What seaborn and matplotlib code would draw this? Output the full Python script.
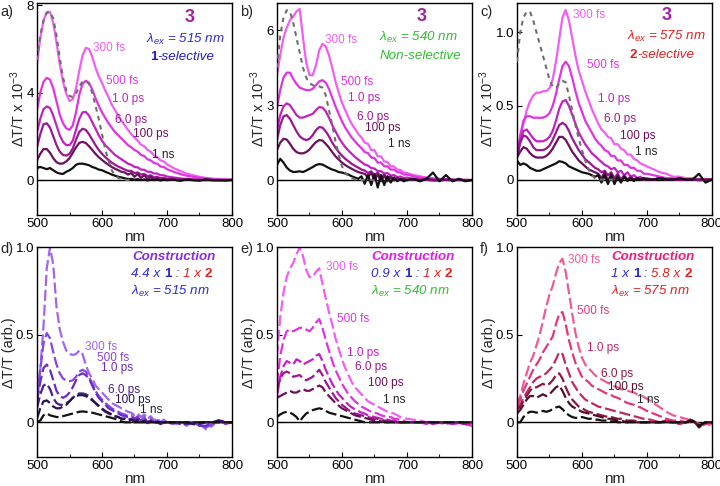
import matplotlib
matplotlib.use("Agg")
import matplotlib.pyplot as plt
import numpy as np
import pandas as pd
import seaborn as sns
from matplotlib.offsetbox import TextArea, HPacker, AnnotationBbox
from matplotlib.ticker import MultipleLocator

# ---------------- data ----------------
WL = [500, 505, 510, 515, 520, 525, 530, 535, 540, 545,
      550, 555, 560, 565, 570, 575, 580, 585, 590, 595,
      600, 605, 610, 615, 620, 625, 630, 635, 640, 645,
      650, 655, 660, 665, 670, 675, 680, 685, 690, 695,
      700, 710, 720, 730, 740, 750, 760, 770, 780, 790,
      800]
WL_ABS = WL[:31]
DELAYS = ["300 fs", "500 fs", "1.0 ps", "6.0 ps", "100 ps", "1 ns"]

a_300fs = [5.3, 6.5, 7.3, 7.7, 7.7, 7.2, 6.3, 5.3, 4.5, 3.95,
           3.62, 3.7, 4.2, 5.0, 5.7, 6.05, 6.0, 5.65, 5.15, 4.75,
           4.45, 4.1, 3.8, 3.45, 3.2, 2.95, 2.72, 2.5, 2.3, 2.1,
           1.95, 1.8, 1.62, 1.55, 1.38, 1.3, 1.12, 1.05, 0.9, 0.85,
           0.72, 0.55, 0.42, 0.3, 0.22, 0.15, 0.1, 0.06, 0.05, 0.02,
           0.02]
a_500fs = [3.2, 4.0, 4.5, 4.68, 4.6, 4.2, 3.6, 3.0, 2.6, 2.37,
           2.3, 2.5, 3.1, 3.9, 4.4, 4.55, 4.45, 4.15, 3.75, 3.4,
           3.1, 2.85, 2.6, 2.4, 2.2, 2.05, 1.9, 1.75, 1.6, 1.5,
           1.38, 1.3, 1.15, 1.1, 0.95, 0.9, 0.78, 0.75, 0.62, 0.6,
           0.5, 0.38, 0.28, 0.2, 0.15, 0.1, 0.06, 0.05, 0.03, 0.02,
           0.01]
a_1ps = [2.2, 2.8, 3.25, 3.37, 3.3, 2.95, 2.5, 2.05, 1.75, 1.6,
         1.6, 1.8, 2.3, 2.8, 3.1, 3.12, 2.95, 2.65, 2.35, 2.05,
         1.8, 1.6, 1.45, 1.3, 1.15, 1.05, 0.95, 0.85, 0.75, 0.7,
         0.6, 0.58, 0.48, 0.47, 0.38, 0.38, 0.3, 0.3, 0.22, 0.22,
         0.16, 0.12, 0.08, 0.05, 0.04, 0.02, 0.02, 0.01, 0.01, 0.0,
         0.0]
a_6ps = [1.5, 2.1, 2.55, 2.6, 2.4, 2.0, 1.6, 1.3, 1.15, 1.12,
         1.2, 1.45, 1.85, 2.2, 2.35, 2.3, 2.1, 1.85, 1.6, 1.38,
         1.2, 1.05, 0.92, 0.8, 0.7, 0.62, 0.55, 0.48, 0.42, 0.42,
         0.32, 0.35, 0.25, 0.28, 0.18, 0.22, 0.12, 0.15, 0.08, 0.1,
         0.05, 0.05, 0.02, 0.02, 0.0, 0.01, -0.01, 0.0, 0.0, -0.02,
         0.0]
a_100ps = [0.9, 1.2, 1.42, 1.42, 1.25, 1.0, 0.82, 0.75, 0.76, 0.85,
           1.0, 1.25, 1.5, 1.7, 1.75, 1.7, 1.55, 1.38, 1.2, 1.05,
           0.92, 0.8, 0.7, 0.6, 0.52, 0.45, 0.38, 0.35, 0.25, 0.32,
           0.15, 0.28, 0.1, 0.22, 0.05, 0.15, 0.02, 0.08, 0.0, 0.05,
           0.0, 0.02, -0.02, 0.03, 0.0, -0.02, 0.02, 0.0, -0.02, 0.01,
           0.0]
a_1ns = [0.55, 0.6, 0.55, 0.5, 0.55, 0.45, 0.35, 0.3, 0.28, 0.38,
         0.45, 0.55, 0.7, 0.75, 0.75, 0.72, 0.68, 0.6, 0.55, 0.48,
         0.45, 0.38, 0.32, 0.25, 0.2, 0.15, 0.12, 0.08, 0.05, 0.05,
         0.02, 0.04, 0.0, 0.03, -0.02, 0.02, 0.0, 0.02, -0.02, 0.01,
         0.0, 0.02, -0.03, 0.02, 0.0, -0.02, 0.03, -0.01, 0.0, -0.02,
         0.01]
a_abs = [5.5, 6.6, 7.3, 7.65, 7.7, 7.4, 6.6, 5.6, 4.7, 4.1,
         3.85, 3.8, 3.95, 4.3, 4.5, 4.55, 4.4, 4.0, 3.4, 2.8,
         2.1, 1.4, 0.9, 0.45, 0.2, 0.1, 0.05, 0.02, 0.0, 0.0,
         0.0]

b_300fs = [4.2, 5.0, 5.7, 6.1, 6.4, 6.55, 6.75, 6.85, 5.7, 4.7,
           4.2, 4.2, 4.6, 5.2, 5.45, 5.35, 5.0, 4.5, 3.95, 3.5,
           3.1, 2.8, 2.5, 2.25, 2.05, 1.85, 1.7, 1.5, 1.45, 1.2,
           1.2, 0.95, 0.95, 0.75, 0.72, 0.55, 0.55, 0.42, 0.4, 0.3,
           0.28, 0.2, 0.15, 0.1, 0.07, 0.05, 0.02, 0.02, 0.0, 0.01,
           0.0]
b_500fs = [2.9, 3.6, 4.1, 4.3, 4.3, 4.05, 3.85, 3.7, 3.65, 3.6,
           3.6, 3.65, 3.8, 3.95, 4.0, 3.9, 3.65, 3.3, 2.95, 2.65,
           2.35, 2.1, 1.9, 1.7, 1.55, 1.4, 1.28, 1.12, 1.08, 0.9,
           0.88, 0.7, 0.7, 0.55, 0.55, 0.42, 0.42, 0.32, 0.3, 0.22,
           0.22, 0.15, 0.1, 0.08, 0.05, 0.03, 0.02, 0.02, 0.0, 0.0,
           0.0]
b_1ps = [2.0, 2.6, 2.95, 3.07, 3.0, 2.8, 2.6, 2.5, 2.5, 2.55,
         2.6, 2.65, 2.8, 2.92, 2.9, 2.75, 2.5, 2.2, 1.95, 1.7,
         1.5, 1.32, 1.18, 1.05, 0.92, 0.82, 0.72, 0.62, 0.58, 0.48,
         0.46, 0.36, 0.36, 0.26, 0.28, 0.18, 0.2, 0.12, 0.14, 0.08,
         0.1, 0.05, 0.04, 0.02, 0.02, 0.0, 0.01, 0.0, 0.0, 0.0,
         0.0]
b_6ps = [1.6, 2.2, 2.55, 2.6, 2.45, 2.2, 1.95, 1.75, 1.65, 1.6,
         1.65, 1.8, 2.0, 2.12, 2.1, 1.95, 1.75, 1.5, 1.3, 1.12,
         0.98, 0.85, 0.75, 0.65, 0.57, 0.5, 0.42, 0.38, 0.28, 0.35,
         0.18, 0.3, 0.1, 0.22, 0.05, 0.15, 0.02, 0.08, 0.0, 0.05,
         0.0, 0.02, 0.0, 0.01, -0.02, 0.02, 0.0, -0.01, 0.01, 0.0,
         0.0]
b_100ps = [1.2, 1.5, 1.65, 1.62, 1.45, 1.25, 1.12, 1.07, 1.07, 1.12,
           1.22, 1.38, 1.52, 1.6, 1.58, 1.45, 1.3, 1.12, 0.95, 0.82,
           0.7, 0.6, 0.52, 0.45, 0.38, 0.32, 0.28, 0.25, 0.1, 0.3,
           0.0, 0.22, -0.05, 0.18, -0.05, 0.12, -0.02, 0.08, 0.0, 0.04,
           0.0, 0.03, -0.02, 0.05, 0.0, -0.03, 0.02, 0.0, 0.01, -0.01,
           0.0]
b_1ns = [0.6, 0.85, 0.7, 0.5, 0.38, 0.32, 0.33, 0.35, 0.32, 0.38,
         0.45, 0.52, 0.6, 0.64, 0.62, 0.55, 0.48, 0.42, 0.38, 0.32,
         0.3, 0.26, 0.22, 0.15, 0.1, 0.05, 0.15, -0.15, 0.2, -0.2,
         0.25, -0.3, 0.2, -0.2, 0.15, -0.1, 0.1, -0.05, 0.05, -0.05,
         0.0, 0.05, -0.05, 0.05, 0.3, -0.05, 0.2, -0.05, 0.05, -0.05,
         0.0]
b_abs = [4.5, 5.8, 6.5, 6.8, 6.75, 6.3, 5.7, 5.1, 4.5, 4.1,
         3.88, 3.8, 3.75, 3.75, 3.7, 3.4, 2.8, 2.2, 1.55, 1.0,
         0.55, 0.3, 0.15, 0.08, 0.03, 0.0, 0.0, 0.0, 0.0, 0.0,
         0.0]

c_300fs = [0.17, 0.28, 0.38, 0.47, 0.53, 0.57, 0.59, 0.59, 0.6, 0.6,
           0.62, 0.68, 0.8, 0.95, 1.1, 1.15, 1.08, 0.96, 0.84, 0.74,
           0.67, 0.6, 0.54, 0.48, 0.43, 0.38, 0.34, 0.32, 0.29, 0.28,
           0.24, 0.24, 0.21, 0.2, 0.17, 0.17, 0.14, 0.13, 0.11, 0.1,
           0.09, 0.07, 0.05, 0.04, 0.02, 0.02, 0.01, 0.01, -0.01, 0.0,
           0.0]
c_500fs = [0.16, 0.3, 0.4, 0.43, 0.43, 0.42, 0.42, 0.42, 0.42, 0.43,
           0.45, 0.5, 0.58, 0.68, 0.77, 0.8, 0.77, 0.69, 0.6, 0.52,
           0.46, 0.4, 0.36, 0.32, 0.28, 0.25, 0.23, 0.2, 0.19, 0.16,
           0.16, 0.13, 0.13, 0.1, 0.1, 0.08, 0.08, 0.06, 0.06, 0.04,
           0.04, 0.03, 0.02, 0.01, 0.01, 0.0, 0.0, 0.0, 0.0, 0.0,
           0.0]
c_1ps = [0.15, 0.27, 0.33, 0.34, 0.31, 0.28, 0.26, 0.26, 0.26, 0.27,
         0.29, 0.33, 0.4, 0.48, 0.53, 0.54, 0.5, 0.44, 0.38, 0.32,
         0.28, 0.24, 0.21, 0.18, 0.16, 0.14, 0.12, 0.1, 0.09, 0.07,
         0.08, 0.05, 0.06, 0.03, 0.05, 0.02, 0.03, 0.01, 0.02, 0.0,
         0.01, 0.0, 0.01, 0.0, 0.0, 0.0, 0.0, 0.0, 0.0, 0.0,
         0.0]
c_6ps = [0.15, 0.25, 0.3, 0.29, 0.26, 0.22, 0.2, 0.2, 0.2, 0.21,
         0.23, 0.27, 0.32, 0.37, 0.385, 0.37, 0.33, 0.28, 0.24, 0.2,
         0.17, 0.14, 0.12, 0.1, 0.08, 0.07, 0.05, 0.06, 0.03, 0.05,
         0.01, 0.04, 0.0, 0.03, 0.0, 0.02, 0.0, 0.01, 0.0, 0.01,
         0.0, 0.0, 0.01, 0.0, 0.0, 0.0, 0.0, 0.0, 0.0, 0.0,
         0.0]
c_100ps = [0.15, 0.19, 0.22, 0.21, 0.18, 0.16, 0.15, 0.15, 0.15, 0.16,
           0.18, 0.21, 0.25, 0.29, 0.29, 0.27, 0.23, 0.19, 0.16, 0.13,
           0.11, 0.09, 0.07, 0.06, 0.05, 0.04, 0.01, 0.05, -0.01, 0.04,
           -0.02, 0.03, -0.01, 0.02, 0.0, 0.01, 0.0, 0.01, 0.0, 0.0,
           0.0, 0.0, 0.01, 0.0, 0.0, 0.0, 0.0, 0.0, 0.0, 0.0,
           0.0]
c_1ns = [0.13, 0.1, 0.11, 0.1, 0.08, 0.07, 0.06, 0.06, 0.07, 0.08,
         0.09, 0.1, 0.11, 0.125, 0.12, 0.11, 0.09, 0.08, 0.07, 0.06,
         0.05, 0.045, 0.04, 0.03, 0.02, 0.03, -0.02, 0.03, -0.03, 0.03,
         -0.03, 0.02, -0.02, 0.02, -0.01, 0.01, -0.01, 0.01, 0.0, 0.01,
         0.0, 0.0, 0.01, 0.0, 0.0, 0.01, 0.0, 0.0, 0.04, -0.02,
         0.0]
c_abs = [0.8, 1.0, 1.1, 1.14, 1.14, 1.08, 1.0, 0.92, 0.84, 0.76,
         0.68, 0.63, 0.62, 0.65, 0.67, 0.66, 0.57, 0.47, 0.37, 0.28,
         0.2, 0.13, 0.07, 0.03, 0.01, 0.0, 0.0, 0.0, 0.0, 0.0,
         0.0]

d_300fs = [0.1, 0.3, 0.55, 0.88, 1.0, 0.9, 0.66, 0.53, 0.46, 0.41,
           0.39, 0.385, 0.39, 0.41, 0.39, 0.33, 0.28, 0.25, 0.21, 0.19,
           0.17, 0.15, 0.13, 0.11, 0.1, 0.09, 0.08, 0.07, 0.06, 0.055,
           0.04, 0.05, 0.03, 0.045, 0.02, 0.035, 0.01, 0.025, 0.0, 0.015,
           0.0, -0.01, 0.0, -0.02, 0.0, -0.01, -0.04, -0.02, 0.02, -0.01,
           0.0]
d_500fs = [0.15, 0.3, 0.45, 0.51, 0.48, 0.4, 0.33, 0.28, 0.25, 0.24,
           0.235, 0.24, 0.26, 0.29, 0.3, 0.29, 0.26, 0.22, 0.18, 0.15,
           0.13, 0.11, 0.095, 0.08, 0.07, 0.06, 0.05, 0.045, 0.035, 0.04,
           0.02, 0.035, 0.01, 0.03, 0.0, 0.02, 0.0, 0.01, -0.01, 0.0,
           0.0, -0.01, 0.0, -0.01, 0.0, -0.02, -0.03, -0.01, 0.01, -0.01,
           0.0]
d_1ps = [0.12, 0.23, 0.31, 0.33, 0.3, 0.24, 0.18, 0.15, 0.14, 0.15,
         0.17, 0.2, 0.24, 0.27, 0.28, 0.27, 0.25, 0.21, 0.17, 0.14,
         0.12, 0.1, 0.08, 0.07, 0.06, 0.05, 0.04, 0.035, 0.03, 0.03,
         0.02, 0.025, 0.01, 0.02, 0.0, 0.01, 0.0, 0.01, -0.01, 0.0,
         0.0, 0.0, -0.01, 0.0, -0.01, -0.02, -0.02, 0.0, 0.01, 0.0,
         0.0]
d_6ps = [0.08, 0.16, 0.21, 0.22, 0.19, 0.14, 0.11, 0.1, 0.1, 0.11,
         0.12, 0.14, 0.155, 0.165, 0.165, 0.16, 0.15, 0.13, 0.11, 0.09,
         0.075, 0.06, 0.05, 0.04, 0.035, 0.03, 0.02, 0.02, 0.015, 0.02,
         0.01, 0.015, 0.0, 0.01, 0.0, 0.01, 0.0, 0.0, -0.01, 0.0,
         0.0, 0.0, 0.0, -0.01, 0.0, -0.01, 0.0, 0.0, 0.0, 0.0,
         0.0]
d_100ps = [0.02, 0.08, 0.12, 0.125, 0.11, 0.09, 0.08, 0.08, 0.09, 0.1,
           0.12, 0.14, 0.15, 0.155, 0.155, 0.15, 0.14, 0.125, 0.11, 0.095,
           0.08, 0.065, 0.055, 0.045, 0.035, 0.03, 0.02, 0.02, 0.01, 0.015,
           0.0, 0.01, 0.0, 0.01, -0.005, 0.005, 0.0, 0.0, 0.0, 0.0,
           0.0, 0.0, 0.0, 0.0, -0.01, 0.0, 0.0, 0.0, 0.01, 0.0,
           0.0]
d_1ns = [0.0, 0.01, 0.04, 0.05, 0.04, 0.035, 0.03, 0.03, 0.035, 0.04,
         0.045, 0.05, 0.055, 0.06, 0.062, 0.06, 0.058, 0.055, 0.05, 0.045,
         0.04, 0.035, 0.03, 0.025, 0.02, 0.01, 0.005, 0.0, 0.0, 0.0,
         0.0, 0.0, 0.0, 0.0, 0.0, 0.0, 0.0, 0.0, 0.0, 0.0,
         0.0, 0.0, 0.0, 0.0, 0.0, 0.0, 0.0, 0.0, 0.0, 0.0,
         0.0]

e_300fs = [0.38, 0.6, 0.74, 0.83, 0.88, 0.91, 0.96, 1.0, 0.95, 0.87,
           0.83, 0.83, 0.86, 0.88, 0.79, 0.71, 0.63, 0.56, 0.48, 0.42,
           0.36, 0.31, 0.27, 0.23, 0.2, 0.18, 0.16, 0.14, 0.12, 0.11,
           0.1, 0.09, 0.08, 0.07, 0.06, 0.055, 0.05, 0.04, 0.03, 0.025,
           0.02, 0.015, 0.01, 0.0, 0.005, -0.005, 0.0, -0.01, -0.005, -0.01,
           -0.02]
e_500fs = [0.22, 0.38, 0.47, 0.52, 0.53, 0.52, 0.53, 0.54, 0.54, 0.53,
           0.52, 0.54, 0.57, 0.59, 0.54, 0.47, 0.41, 0.35, 0.3, 0.26,
           0.22, 0.19, 0.16, 0.14, 0.12, 0.105, 0.09, 0.08, 0.07, 0.06,
           0.055, 0.05, 0.04, 0.035, 0.03, 0.03, 0.02, 0.02, 0.01, 0.01,
           0.0, 0.0, 0.0, -0.01, 0.0, 0.0, -0.01, 0.0, -0.01, -0.01,
           -0.02]
e_1ps = [0.15, 0.26, 0.32, 0.35, 0.34, 0.33, 0.36, 0.35, 0.33, 0.34,
         0.35, 0.36, 0.38, 0.39, 0.35, 0.3, 0.26, 0.22, 0.19, 0.16,
         0.14, 0.12, 0.1, 0.085, 0.075, 0.065, 0.055, 0.05, 0.04, 0.035,
         0.03, 0.025, 0.02, 0.02, 0.015, 0.01, 0.01, 0.005, 0.0, 0.0,
         0.0, 0.0, 0.0, 0.0, -0.01, 0.0, 0.0, -0.01, 0.0, -0.01,
         -0.01]
e_6ps = [0.18, 0.25, 0.28, 0.29, 0.28, 0.26, 0.265, 0.27, 0.25, 0.24,
         0.25, 0.26, 0.28, 0.3, 0.27, 0.23, 0.2, 0.17, 0.14, 0.12,
         0.1, 0.085, 0.07, 0.06, 0.05, 0.045, 0.04, 0.035, 0.03, 0.025,
         0.02, 0.02, 0.015, 0.01, 0.01, 0.005, 0.0, 0.0, 0.0, 0.0,
         0.0, 0.0, 0.0, 0.0, 0.0, -0.01, 0.0, 0.0, 0.0, -0.01,
         0.0]
e_100ps = [0.14, 0.15, 0.16, 0.17, 0.18, 0.17, 0.17, 0.18, 0.19, 0.18,
           0.18, 0.19, 0.2, 0.21, 0.2, 0.17, 0.15, 0.13, 0.11, 0.095,
           0.08, 0.07, 0.06, 0.05, 0.04, 0.035, 0.03, 0.025, 0.02, 0.015,
           0.01, 0.01, 0.005, 0.005, 0.0, 0.0, 0.0, 0.0, 0.0, 0.0,
           0.0, 0.0, 0.0, 0.0, 0.0, 0.0, 0.0, 0.0, 0.0, 0.0,
           0.0]
e_1ns = [0.03, 0.045, 0.055, 0.06, 0.055, 0.045, 0.03, 0.005, 0.03, 0.05,
         0.06, 0.07, 0.075, 0.08, 0.075, 0.065, 0.055, 0.05, 0.045, 0.04,
         0.035, 0.03, 0.025, 0.02, 0.015, 0.01, 0.005, 0.0, 0.0, 0.0,
         0.0, 0.0, 0.0, 0.0, 0.0, 0.0, 0.0, 0.0, 0.0, 0.0,
         0.0, 0.0, 0.0, 0.0, 0.0, 0.0, 0.0, 0.0, 0.0, 0.0,
         0.0]

f_300fs = [0.1, 0.15, 0.22, 0.28, 0.34, 0.38, 0.44, 0.5, 0.58, 0.66,
           0.73, 0.78, 0.85, 0.91, 0.935, 0.86, 0.74, 0.62, 0.51, 0.43,
           0.37, 0.33, 0.31, 0.29, 0.27, 0.255, 0.245, 0.235, 0.225, 0.215,
           0.205, 0.2, 0.19, 0.185, 0.18, 0.175, 0.17, 0.16, 0.155, 0.145,
           0.135, 0.11, 0.085, 0.06, 0.04, 0.03, 0.02, 0.01, -0.01, -0.02,
           -0.01]
f_500fs = [0.09, 0.13, 0.18, 0.22, 0.26, 0.3, 0.33, 0.36, 0.4, 0.43,
           0.46, 0.49, 0.56, 0.62, 0.63, 0.56, 0.47, 0.4, 0.34, 0.3,
           0.26, 0.245, 0.23, 0.21, 0.2, 0.19, 0.18, 0.17, 0.16, 0.155,
           0.145, 0.14, 0.13, 0.12, 0.11, 0.105, 0.1, 0.09, 0.085, 0.075,
           0.065, 0.05, 0.035, 0.02, 0.01, 0.01, 0.0, 0.0, -0.01, -0.01,
           0.0]
f_1ps = [0.08, 0.1, 0.14, 0.17, 0.2, 0.23, 0.25, 0.26, 0.27, 0.28,
         0.3, 0.32, 0.36, 0.4, 0.39, 0.33, 0.28, 0.23, 0.2, 0.17,
         0.15, 0.13, 0.12, 0.11, 0.1, 0.09, 0.085, 0.08, 0.075, 0.07,
         0.065, 0.06, 0.055, 0.05, 0.045, 0.04, 0.035, 0.03, 0.025, 0.02,
         0.02, 0.01, 0.0, 0.01, 0.0, -0.01, 0.0, 0.01, -0.02, -0.01,
         0.0]
f_6ps = [0.07, 0.09, 0.12, 0.15, 0.18, 0.2, 0.2, 0.21, 0.22, 0.21,
         0.22, 0.24, 0.27, 0.28, 0.25, 0.2, 0.16, 0.13, 0.11, 0.09,
         0.08, 0.07, 0.06, 0.055, 0.05, 0.045, 0.04, 0.035, 0.03, 0.03,
         0.025, 0.02, 0.02, 0.015, 0.01, 0.01, 0.01, 0.005, 0.0, 0.0,
         0.0, 0.0, 0.0, 0.01, 0.0, 0.0, 0.0, 0.01, -0.02, 0.0,
         0.0]
f_100ps = [0.05, 0.07, 0.1, 0.13, 0.15, 0.15, 0.14, 0.15, 0.16, 0.15,
           0.16, 0.18, 0.2, 0.21, 0.18, 0.14, 0.11, 0.09, 0.08, 0.07,
           0.06, 0.055, 0.05, 0.045, 0.04, 0.035, 0.03, 0.025, 0.02, 0.02,
           0.015, 0.01, 0.01, 0.005, 0.0, 0.005, 0.0, 0.0, 0.0, 0.0,
           0.0, 0.0, 0.0, 0.0, 0.0, 0.0, 0.0, 0.02, -0.03, 0.0,
           0.0]
f_1ns = [0.0, 0.0, 0.03, 0.05, 0.06, 0.06, 0.055, 0.06, 0.065, 0.06,
         0.065, 0.075, 0.085, 0.09, 0.075, 0.055, 0.04, 0.03, 0.025, 0.025,
         0.03, 0.025, 0.02, 0.02, 0.015, 0.015, 0.01, 0.01, 0.01, 0.005,
         0.005, 0.0, 0.0, 0.0, 0.0, 0.0, 0.0, 0.0, 0.0, 0.0,
         0.0, 0.0, 0.0, 0.0, 0.0, 0.0, 0.0, 0.01, -0.02, 0.0,
         0.0]

# ---------------- style ----------------
sns.set_theme(style="ticks")
plt.rcParams["font.family"] = ["Liberation Sans", "DejaVu Sans"]
plt.rcParams["mathtext.fontset"] = "custom"
plt.rcParams["mathtext.rm"] = "Liberation Sans"
plt.rcParams["mathtext.it"] = "Liberation Sans:italic"
plt.rcParams["mathtext.bf"] = "Liberation Sans:bold"

MAGENTA = ["#f15ef1", "#e034e0", "#c222c0", "#9c1890", "#6c105f", "#111111"]
VIOLET = ["#a066f0", "#8646e6", "#6c2ac8", "#4a1e8a", "#28144e", "#111111"]
PINK = ["#f05a96", "#e1377d", "#c32864", "#8c1946", "#550f28", "#111111"]
BLUE, RED, GREEN = "#2b2bd6", "#e61e1e", "#2ec02e"

fig = plt.figure(figsize=(7.2, 4.86), dpi=100)
cols = [0.0514, 0.3847, 0.718]
W = 0.2708
TOP = (0.5576, 0.4368)
BOT = (0.0591, 0.432)

LBL = 8.5
ANN = 9.6


def rich(ax, x, y, parts, size=ANN):
    kids = []
    for txt, color, style, weight in parts:
        kids.append(TextArea(txt, textprops=dict(color=color, fontsize=size,
                                                 fontstyle=style, fontweight=weight)))
    box = HPacker(children=kids, align="baseline", pad=0, sep=0)
    ab = AnnotationBbox(box, (x, y), xycoords="data", frameon=False,
                        box_alignment=(0.5, 0.5), pad=0, annotation_clip=False)
    ax.add_artist(ab)


def panel(col, row, series, colors, ylim, yticks, yticklabels, ylabel,
          dashed, abs_series, label_pos):
    b, h = row
    ax = fig.add_axes([cols[col], b, W, h])
    frames = []
    for name, vals in zip(DELAYS, series):
        frames.append(pd.DataFrame({"wl": WL, "val": vals, "delay": name}))
    df = pd.concat(frames, ignore_index=True)
    ax.axhline(0, color="black", lw=1.0, zorder=1)
    if dashed:
        sns.lineplot(data=df, x="wl", y="val", hue="delay", hue_order=DELAYS,
                     palette=colors, style="delay", style_order=DELAYS,
                     dashes={d: (5, 1.7) for d in DELAYS}, linewidth=1.6,
                     estimator=None, sort=False, legend=False, ax=ax, zorder=2)
    else:
        sns.lineplot(data=df, x="wl", y="val", hue="delay", hue_order=DELAYS,
                     palette=colors, linewidth=1.6, estimator=None, sort=False,
                     legend=False, ax=ax, zorder=2)
    if abs_series is not None:
        sns.lineplot(x=WL_ABS, y=abs_series, color="#6e6e6e", linewidth=1.5,
                     estimator=None, sort=False, ax=ax, zorder=3)
        ax.lines[-1].set_dashes((2.2, 2.2))
    ax.set_xlim(500, 800)
    ax.set_ylim(*ylim)
    ax.set_xticks([500, 600, 700, 800])
    ax.xaxis.set_minor_locator(MultipleLocator(50))
    ax.set_yticks(yticks)
    ax.set_yticklabels(yticklabels)
    ax.tick_params(which="major", direction="in", length=3.5, width=0.8,
                   labelsize=9.5, pad=2, colors="black")
    ax.tick_params(which="minor", direction="in", length=2, width=0.8)
    for s in ax.spines.values():
        s.set_linewidth(1.0)
        s.set_color("black")
    ax.set_xlabel("nm", fontsize=11, labelpad=0)
    ax.set_ylabel(ylabel, fontsize=10.5, labelpad=0)
    for (x, y), name, c in zip(label_pos, DELAYS, colors):
        ax.text(x, y, name, color=c if c != "#111111" else "#222222",
                fontsize=LBL, ha="left", va="center")
    return ax


YL_TOP = "ΔT/T x 10$^{\\mathregular{-3}}$"
YL_BOT = "ΔT/T (arb.)"

# a)
ax = panel(0, TOP, [a_300fs, a_500fs, a_1ps, a_6ps, a_100ps, a_1ns], MAGENTA,
           (-1.6, 8.12), [0, 4, 8], ["0", "4", "8"], YL_TOP, False, a_abs,
           [(586, 6.05), (606, 4.55), (615, 3.7), (620, 2.77), (648, 2.1), (677, 1.15)])
ax.text(735, 7.45, "3", color="#a21fa5", fontsize=13, fontweight="bold", ha="center", va="center")
rich(ax, 728, 6.45, [("λ$_{\\mathit{ex}}$ = 515 nm", BLUE, "italic", "normal")])
rich(ax, 723, 5.65, [("1", "#1f1fc0", "normal", "bold"), ("-selective", "#1f1fc0", "italic", "normal")])

# b)
ax = panel(1, TOP, [b_300fs, b_500fs, b_1ps, b_6ps, b_100ps, b_1ns], MAGENTA,
           (-1.4, 7.1), [0, 3, 6], ["0", "3", "6"], YL_TOP, False, b_abs,
           [(574, 5.6), (598, 3.93), (610, 3.27), (623, 2.53), (635, 2.07), (671, 1.44)])
ax.text(723, 6.55, "3", color="#a21fa5", fontsize=13, fontweight="bold", ha="center", va="center")
rich(ax, 717, 5.7, [("λ$_{\\mathit{ex}}$ = 540 nm", GREEN, "italic", "normal")])
rich(ax, 720, 4.98, [("Non-selective", GREEN, "italic", "normal")])

# c)
ax = panel(2, TOP, [c_300fs, c_500fs, c_1ps, c_6ps, c_100ps, c_1ns], MAGENTA,
           (-0.24, 1.2), [0, 0.5, 1.0], ["0", "0.5", "1.0"], YL_TOP, False, c_abs,
           [(586, 1.12), (608, 0.78), (625, 0.55), (634, 0.41), (658, 0.295), (681, 0.186)])
ax.text(730, 1.115, "3", color="#a21fa5", fontsize=13, fontweight="bold", ha="center", va="center")
rich(ax, 730, 0.97, [("λ$_{\\mathit{ex}}$ = 575 nm", RED, "italic", "normal")])
rich(ax, 723, 0.845, [("2", RED, "normal", "bold"), ("-selective", RED, "italic", "normal")])

# d)
ax = panel(0, BOT, [d_300fs, d_500fs, d_1ps, d_6ps, d_100ps, d_1ns], VIOLET,
           (-0.2, 1.0), [0, 0.5, 1.0], ["0", "0.5", "1.0"], YL_BOT, True, None,
           [(574, 0.43), (592, 0.37), (599, 0.31), (610, 0.184), (620, 0.126), (658, 0.069)])
rich(ax, 710, 0.946, [("Construction", "#8a2be6", "italic", "bold")])
rich(ax, 707, 0.845, [("4.4 x ", BLUE, "italic", "normal"), ("1", BLUE, "normal", "bold"),
                      (" : ", "#333333", "italic", "normal"), ("1 x ", RED, "italic", "normal"),
                      ("2", RED, "normal", "bold")])
rich(ax, 705, 0.75, [("λ$_{\\mathit{ex}}$ = 515 nm", BLUE, "italic", "normal")])

# e)
ax = panel(1, BOT, [e_300fs, e_500fs, e_1ps, e_6ps, e_100ps, e_1ns], MAGENTA,
           (-0.2, 1.0), [0, 0.5, 1.0], ["0", "0.5", "1.0"], YL_BOT, True, None,
           [(575, 0.89), (592, 0.59), (607, 0.395), (620, 0.314), (640, 0.222), (663, 0.126)])
rich(ax, 710, 0.946, [("Construction", "#e020e0", "italic", "bold")])
rich(ax, 707, 0.845, [("0.9 x ", BLUE, "italic", "normal"), ("1", BLUE, "normal", "bold"),
                      (" : ", "#333333", "italic", "normal"), ("1 x ", RED, "italic", "normal"),
                      ("2", RED, "normal", "bold")])
rich(ax, 705, 0.75, [("λ$_{\\mathit{ex}}$ = 540 nm", GREEN, "italic", "normal")])

# f)
ax = panel(2, BOT, [f_300fs, f_500fs, f_1ps, f_6ps, f_100ps, f_1ns], PINK,
           (-0.2, 1.0), [0, 0.5, 1.0], ["0", "0.5", "1.0"], YL_BOT, True, None,
           [(579, 0.927), (593, 0.634), (608, 0.423), (629, 0.276), (640, 0.203), (684, 0.13)])
rich(ax, 710, 0.946, [("Construction", "#e8207a", "italic", "bold")])
rich(ax, 707, 0.845, [("1 x ", BLUE, "italic", "normal"), ("1", BLUE, "normal", "bold"),
                      (" : ", "#333333", "italic", "normal"), ("5.8 x ", RED, "italic", "normal"),
                      ("2", RED, "normal", "bold")])
rich(ax, 705, 0.75, [("λ$_{\\mathit{ex}}$ = 575 nm", RED, "italic", "normal")])

for x, y, t in [(0.0, 0.976, "a)"), (0.334, 0.976, "b)"), (0.667, 0.976, "c)"),
                (0.0, 0.487, "d)"), (0.334, 0.487, "e)"), (0.667, 0.487, "f)")]:
    fig.text(x, y, t, fontsize=10.5, ha="left", va="center")

fig.savefig("out.png", dpi=100)
